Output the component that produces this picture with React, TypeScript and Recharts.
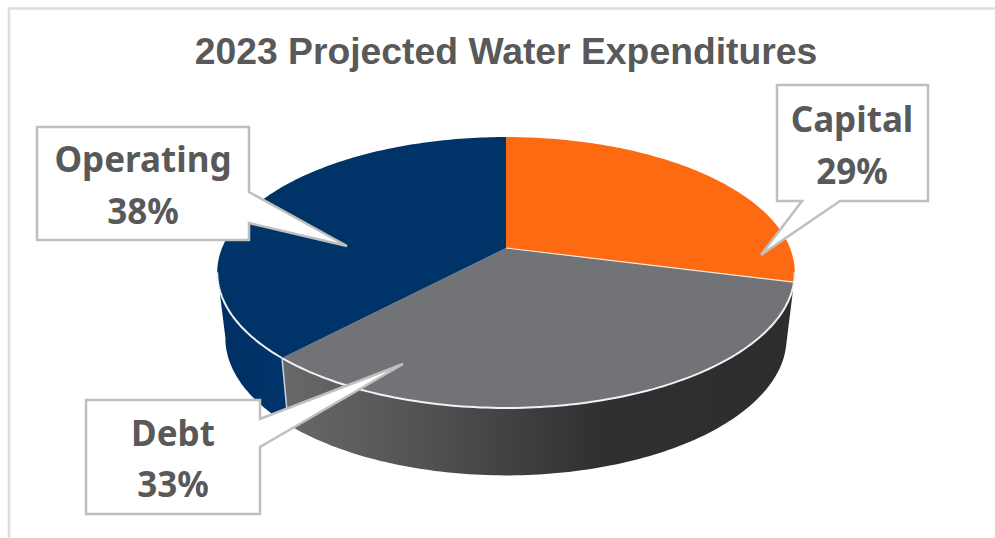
import React from "react";
import { PieChart, Pie } from "recharts";

// Spending shares, in percent
const categories = ["Capital", "Debt", "Operating"];
const shares = [29, 33, 38];

const rows = categories.map((name, i) => ({ name, value: shares[i] }));

const WIDTH = 995;
const HEIGHT = 538;
const TEXT_GREY = "#595959";
const BORDER_GREY = "#bfbfbf";
const FRAME_GREY = "#dedede";

const topColors: Record<string, string> = {
  Capital: "#fd6a12",
  Debt: "#727376",
  Operating: "#003468",
};

// Perspective of the tilted disc: the near rim sits lower and wider than the far rim.
const TILT = 0.181;
const SQUASH = 131 / 284;
const DEPTH = 65;
const BASE_SCALE_X = 276 / 284;
const BASE_SCALE_Y = 133 / 131;
// Clockwise angle from twelve o'clock where the rim's silhouette turns away.
const VISIBLE_FROM = 100.4;
const VISIBLE_TO = 259.6;

type Pt = [number, number];

function project(cx: number, cy: number, r: number, clockDeg: number, onBase: boolean): Pt {
  const t = (clockDeg * Math.PI) / 180;
  const u = Math.sin(t);
  const v = -Math.cos(t);
  const w = 1 - TILT * v;
  const sx = onBase ? BASE_SCALE_X : 1;
  const sy = onBase ? BASE_SCALE_Y : 1;
  return [cx + (r * sx * u) / w, cy + (onBase ? DEPTH : 0) + (r * SQUASH * sy * v) / w];
}

function arc(cx: number, cy: number, r: number, from: number, to: number, onBase: boolean): Pt[] {
  const steps = Math.max(2, Math.ceil(Math.abs(to - from)));
  const out: Pt[] = [];
  for (let i = 0; i <= steps; i++) out.push(project(cx, cy, r, from + ((to - from) * i) / steps, onBase));
  return out;
}

const toPath = (pts: Pt[], close = false) =>
  pts.map((p, i) => `${i ? "L" : "M"}${p[0].toFixed(1)} ${p[1].toFixed(1)}`).join(" ") + (close ? " Z" : "");

// One slice of the disc: side wall first, then the top face and its rim highlight.
function DiscSlice(props: any) {
  const { cx, cy, outerRadius: r, startAngle, endAngle, name, payload } = props;
  const label = name ?? payload?.name;
  const from = 90 - startAngle;
  const to = 90 - endAngle;
  const wallFrom = Math.max(from, VISIBLE_FROM);
  const wallTo = Math.min(to, VISIBLE_TO);
  const hasWall = wallTo > wallFrom;
  const rim = arc(cx, cy, r, from, to, false);
  const wallPath = hasWall
    ? toPath([...arc(cx, cy, r, wallFrom, wallTo, false), ...arc(cx, cy, r, wallFrom, wallTo, true).reverse()], true)
    : "";
  const gradId = `wall-${label}`;
  return (
    <g>
      <defs>
        <linearGradient id="wall-Debt" x1="0" y1="0" x2="1" y2="0">
          <stop offset="0" stopColor="#68696b" />
          <stop offset="0.3" stopColor="#4f5052" />
          <stop offset="0.62" stopColor="#2f3031" />
          <stop offset="1" stopColor="#2c2e2e" />
        </linearGradient>
        <linearGradient id="wall-Operating" x1="0" y1="0" x2="1" y2="0">
          <stop offset="0" stopColor="#002f63" />
          <stop offset="1" stopColor="#00356b" />
        </linearGradient>
      </defs>
      {hasWall && <path d={wallPath} fill={`url(#${gradId})`} />}
      {label === "Operating" && (
        <path d={toPath([project(cx, cy, r, from, false), project(cx, cy, r, from, true)])} stroke="#c9d3df" strokeWidth={1.5} fill="none" />
      )}
      <path d={toPath([[cx, cy], ...rim], true)} fill={topColors[label]} />
      {hasWall && <path d={toPath(arc(cx, cy, r, wallFrom, wallTo, false))} stroke="#f2f2f2" strokeWidth={2} fill="none" />}
      {label === "Debt" && <path d={toPath([[cx, cy], project(cx, cy, r, from, false)])} stroke="#f5e6da" strokeWidth={1.2} fill="none" />}
    </g>
  );
}

// Box corners and pointer geometry for each callout.
const calloutLayout: Record<string, { box: [number, number, number, number]; side: "right" | "bottom"; a: Pt; b: Pt; tip: Pt; textX: number; y1: number; y2: number }> = {
  Capital: { box: [777, 85, 928, 201], side: "bottom", a: [840, 201], b: [802, 201], tip: [761, 255], textX: 852, y1: 132, y2: 184 },
  Debt: { box: [86, 400, 260, 514], side: "right", a: [260, 419], b: [260, 447], tip: [403, 364], textX: 173, y1: 446, y2: 497 },
  Operating: { box: [37, 127, 249, 240], side: "right", a: [249, 192], b: [249, 223], tip: [347, 246], textX: 143, y1: 172, y2: 224 },
};

function Callout(props: any) {
  const label = props.name ?? props.payload?.name;
  const c = calloutLayout[label];
  if (!c) return null;
  const [x0, y0, x1, y1] = c.box;
  const outline: Pt[] =
    c.side === "right"
      ? [[x0, y0], [x1, y0], c.a, c.tip, c.b, [x1, y1], [x0, y1]]
      : [[x0, y0], [x1, y0], [x1, y1], c.a, c.tip, c.b, [x0, y1]];
  const textStyle = { fontFamily: "'Noto Sans', sans-serif", fontWeight: 700, fontSize: 35, fill: TEXT_GREY };
  return (
    <g>
      <path d={toPath(outline, true)} fill="#ffffff" stroke={BORDER_GREY} strokeWidth={2.5} strokeLinejoin="miter" />
      <text x={c.textX} y={c.y1} textAnchor="middle" style={textStyle}>{label}</text>
      <text x={c.textX} y={c.y2} textAnchor="middle" style={textStyle}>{`${props.value}%`}</text>
    </g>
  );
}

export default function App() {
  return (
    <div style={{ position: "absolute", left: 0, top: 0, width: WIDTH, height: HEIGHT, background: "#fff" }}>
      <PieChart width={WIDTH} height={HEIGHT} margin={{ top: 0, right: 0, bottom: 0, left: 0 }}>
        <line x1={8} y1={8.5} x2={WIDTH} y2={8.5} stroke={FRAME_GREY} strokeWidth={2.5} />
        <line x1={9} y1={8} x2={9} y2={HEIGHT} stroke={FRAME_GREY} strokeWidth={2.5} />
        <text x={506} y={64} textAnchor="middle" style={{ fontFamily: "'Liberation Sans', sans-serif", fontWeight: 700, fontSize: 37.3, fill: TEXT_GREY }}>
          2023 Projected Water Expenditures
        </text>
        <Pie
          data={rows}
          dataKey="value"
          nameKey="name"
          cx={506}
          cy={248}
          innerRadius={0}
          outerRadius={284}
          startAngle={90}
          endAngle={-270}
          stroke="none"
          isAnimationActive={false}
          labelLine={false}
          label={Callout}
          shape={DiscSlice}
        />
      </PieChart>
    </div>
  );
}
